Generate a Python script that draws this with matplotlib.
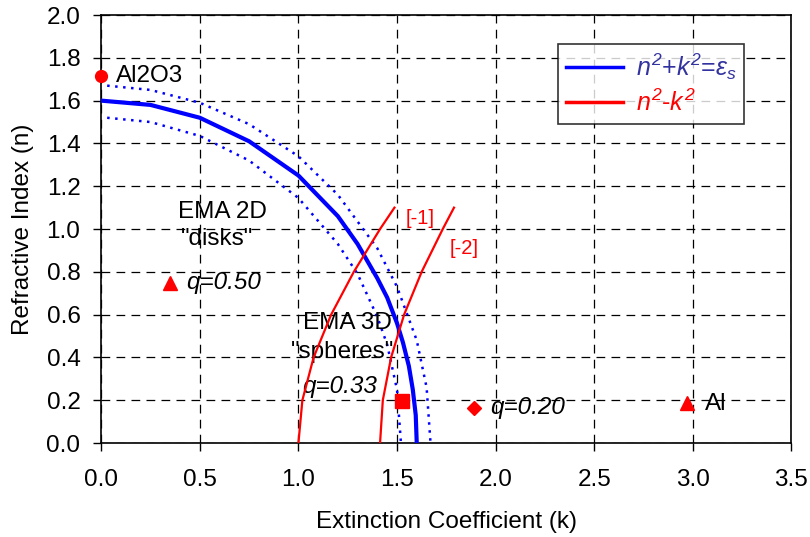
import numpy as np
import matplotlib
matplotlib.use("Agg")
import matplotlib.pyplot as plt

plt.rcParams['font.family'] = ['Liberation Sans', 'DejaVu Sans']
plt.rcParams['mathtext.fontset'] = 'custom'
plt.rcParams['mathtext.it'] = 'Liberation Sans:italic'
plt.rcParams['mathtext.rm'] = 'Liberation Sans:italic'

# n^2+k^2 = eps_s circle
k_main = [0.0, 0.25, 0.5, 0.75, 1.0, 1.2, 1.3, 1.4, 1.45, 1.5, 1.53, 1.56, 1.58, 1.595, 1.6]
n_main = [1.6, 1.58, 1.52, 1.41, 1.25, 1.06, 0.93, 0.77, 0.68, 0.56, 0.47, 0.36, 0.25, 0.13, 0.0]

# dotted bounds
k_inner = [0.03, 0.25, 0.5, 0.75, 1.0, 1.2, 1.3, 1.4, 1.45, 1.5, 1.52]
n_inner = [1.52, 1.50, 1.435, 1.32, 1.145, 0.93, 0.79, 0.59, 0.46, 0.25, 0.0]
k_outer = [0.03, 0.25, 0.5, 0.75, 1.0, 1.2, 1.4, 1.5, 1.6, 1.65, 1.67]
n_outer = [1.67, 1.65, 1.59, 1.49, 1.34, 1.16, 0.91, 0.73, 0.48, 0.26, 0.0]

# n^2-k^2 curves [-1] and [-2]
n_red = [0.0, 0.2, 0.4, 0.6, 0.8, 1.0, 1.1]
k_red1 = [1.0, 1.02, 1.077, 1.166, 1.281, 1.414, 1.487]
k_red2 = [1.414, 1.428, 1.470, 1.536, 1.625, 1.732, 1.789]

# material / EMA points
al2o3 = (0.0, 1.715)
ema2d = (0.35, 0.75)
ema3d = (1.525, 0.195)
ema_q20 = (1.89, 0.165)
al = (2.97, 0.185)

fig = plt.figure(figsize=(8.1, 5.37), dpi=100)
ax = fig.add_axes([0.125, 0.175, 0.852, 0.797])

ax.plot(k_inner, n_inner, color='blue', lw=1.8, ls=(0, (1, 2.2)), zorder=3)
ax.plot(k_outer, n_outer, color='blue', lw=1.8, ls=(0, (1, 2.2)), zorder=3)
ax.plot(k_main, n_main, color='blue', lw=3, zorder=4,
        label=r'$n^2$+$k^2$=$\varepsilon_s$')
ax.plot(k_red1, n_red, color='red', lw=1.6, zorder=4, label=r'$n^2$-$k^2$')
ax.plot(k_red2, n_red, color='red', lw=1.6, zorder=4)

ax.plot(*al2o3, 'o', color='red', ms=8.5, clip_on=False, zorder=5)
ax.plot(*ema2d, '^', color='red', ms=9.5, zorder=5)
ax.plot(*ema3d, 's', color='red', ms=9.5, zorder=5)
ax.plot(*ema_q20, 'D', color='red', ms=7.5, zorder=5)
ax.plot(*al, '^', color='red', ms=9.5, zorder=5)

fs = 17.5
ax.text(0.076, 1.715, 'Al2O3', fontsize=fs, va='center')
ax.text(0.614, 1.079, 'EMA 2D', fontsize=fs, ha='center', va='center')
ax.text(0.588, 0.953, '"disks"', fontsize=fs, ha='center', va='center')
ax.text(0.431, 0.748, 'q=0.50', fontsize=fs, style='italic', va='center')
ax.text(1.248, 0.561, 'EMA 3D', fontsize=fs, ha='center', va='center')
ax.text(1.222, 0.425, '"spheres"', fontsize=fs, ha='center', va='center')
ax.text(1.02, 0.266, 'q=0.33', fontsize=fs, style='italic', va='center')
ax.text(1.618, 1.051, '[-1]', fontsize=14.5, color='red', ha='center', va='center')
ax.text(1.841, 0.911, '[-2]', fontsize=14.5, color='red', ha='center', va='center')
ax.text(1.973, 0.164, 'q=0.20', fontsize=fs, style='italic', va='center')
ax.text(3.064, 0.182, 'Al', fontsize=fs, va='center')

ax.set_xlim(0, 3.5)
ax.set_ylim(0, 2.0)
ax.set_xticks(np.arange(0, 3.51, 0.5))
ax.set_yticks(np.arange(0, 2.01, 0.2))
ax.set_xticklabels(['%.1f' % v for v in np.arange(0, 3.51, 0.5)])
ax.set_yticklabels(['%.1f' % v for v in np.arange(0, 2.01, 0.2)])
ax.tick_params(labelsize=fs, direction='out', length=6, width=1, color='black')
ax.tick_params(axis='x', pad=13)
ax.tick_params(axis='y', pad=9)
ax.grid(True, color='black', ls=(0, (7, 5)), lw=0.9)
for s in ax.spines.values():
    s.set_linewidth(1.2)
ax.set_xlabel('Extinction Coefficient (k)', fontsize=fs)
ax.set_ylabel('Refractive Index (n)', fontsize=fs)
ax.xaxis.set_label_coords(0.5, -0.158)
ax.yaxis.set_label_coords(-0.098, 0.5)

leg = ax.legend(loc='upper left', bbox_to_anchor=(0.662, 0.932), fontsize=18,
                frameon=True, fancybox=False, edgecolor='black', handlelength=2.3,
                borderpad=0.3, borderaxespad=0, labelspacing=0.3, handletextpad=0.5)
leg.get_frame().set_linewidth(1.2)
leg.get_texts()[0].set_color('#3333a0')
leg.get_texts()[1].set_color('red')
for h in leg.get_lines():
    h.set_linewidth(2.5)

fig.savefig('out.png', dpi=100)
